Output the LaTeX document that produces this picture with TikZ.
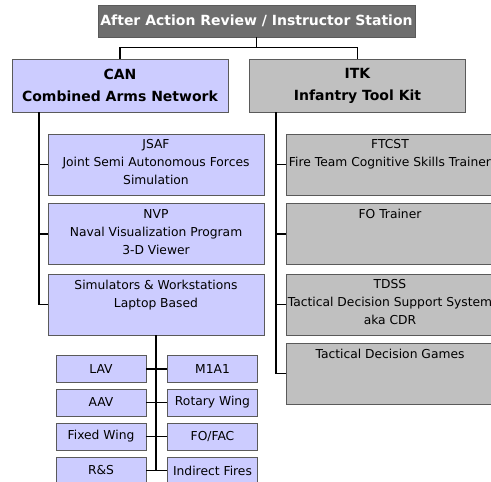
\documentclass[tikz,border=0pt]{standalone}
\usepackage{fontspec}
\setmainfont{DejaVu Sans}
\usetikzlibrary{positioning}
\definecolor{canblue}{HTML}{CCCCFF}
\definecolor{itkgray}{HTML}{C0C0C0}
\definecolor{aargray}{HTML}{6E6E6E}
\definecolor{edgegray}{HTML}{5A5A5A}

\begin{document}
\begin{tikzpicture}[x=1pt,y=-1pt,
  font=\fontsize{12.3}{18}\selectfont,
  aarbox/.style={draw=edgegray,line width=0.8pt,fill=aargray,text=white,minimum width=317pt,minimum height=32pt,inner sep=0pt,font=\fontsize{14}{18}\selectfont\bfseries},
  head/.style ={draw=edgegray,line width=0.8pt,minimum width=216pt,minimum height=53pt,inner sep=0pt,align=center,font=\fontsize{14}{22}\selectfont\bfseries},
  unit/.style ={draw=edgegray,line width=0.8pt,minimum width=216pt,minimum height=61pt,inner sep=0pt},
  txt/.style  ={align=center,inner sep=0pt},
  small/.style={draw=edgegray,line width=0.8pt,fill=canblue,minimum width=90pt,minimum height=27pt,inner sep=0pt},
  link/.style ={line width=1.5pt}
]
\clip (0,0) rectangle (491,482);
\fill[white] (0,0) rectangle (491,482);
% top station and the two networks
\node[aarbox] (aar) at (256.5,21) {After Action Review / Instructor Station};
\node[head,fill=canblue] (can) at (120,85.5)   {CAN\\Combined Arms Network};
\node[head,fill=itkgray] (itk) at (357.5,85.5) {ITK\\Infantry Tool Kit};
% CAN column
\node[unit,fill=canblue] (jsaf) at (156,164.5) {};
\node[txt,below=6pt of jsaf.north] (jsaf-t) {JSAF\\Joint Semi Autonomous Forces\\Simulation};
\node[unit,fill=canblue] (nvp) at (156,234) {};
\node[txt,below=6pt of nvp.north] (nvp-t) {NVP\\Naval Visualization Program\\3-D Viewer};
\node[unit,fill=canblue] (sim) at (156,304.5) {};
\node[txt,below=6pt of sim.north] (sim-t) {Simulators \& Workstations\\Laptop Based};
% ITK column
\node[unit,fill=itkgray,minimum width=208pt] (ftcst) at (390,164.5) {};
\node[txt,below=6pt of ftcst.north] (ftcst-t) {FTCST\\Fire Team Cognitive Skills Trainer};
\node[unit,fill=itkgray,minimum width=208pt] (fotr) at (390,234) {};
\node[txt,below=6pt of fotr.north] (fotr-t) {FO Trainer};
\node[unit,fill=itkgray,minimum width=208pt] (tdss) at (390,304.5) {};
\node[txt,below=6pt of tdss.north] (tdss-t) {TDSS\\Tactical Decision Support System\\aka CDR};
\node[unit,fill=itkgray,minimum width=208pt] (tdg) at (390,373.5) {};
\node[txt,below=6pt of tdg.north] (tdg-t) {Tactical Decision Games};
% simulators
\node[small] (lav)      at (101,369)     {LAV};
\node[small] (m1a1)     at (212.5,369)   {M1A1};
\node[small] (aav)      at (101,402.5)   {AAV};
\node[small] (rotary)   at (212.5,402.5) {Rotary Wing};
\node[small] (fixed)    at (101,436.5)   {Fixed Wing};
\node[small] (fofac)    at (212.5,436.5) {FO/FAC};
\node[small] (rs)       at (101,470.5)   {R\&S};
\node[small] (indirect) at (212.5,470.5) {Indirect Fires};
% connectors
\draw[link] (aar.south) -- ++(0,10) -| (can.north);
\draw[link] (aar.south) -- ++(0,10) -| (itk.north);
\coordinate (can-t) at (39,112);
\foreach \n in {jsaf,nvp,sim} \draw[link] (can-t) |- (\n.west);
\coordinate (itk-t) at (276,112);
\foreach \n in {ftcst,fotr,tdss,tdg} \draw[link] (itk-t) |- (\n.west);
\draw[link] (sim.south) -- (sim.south |- rs.east);
\foreach \a/\b in {lav/m1a1,aav/rotary,fixed/fofac,rs/indirect} \draw[link] (\a.east) -- (\b.west);
\end{tikzpicture}
\end{document}
